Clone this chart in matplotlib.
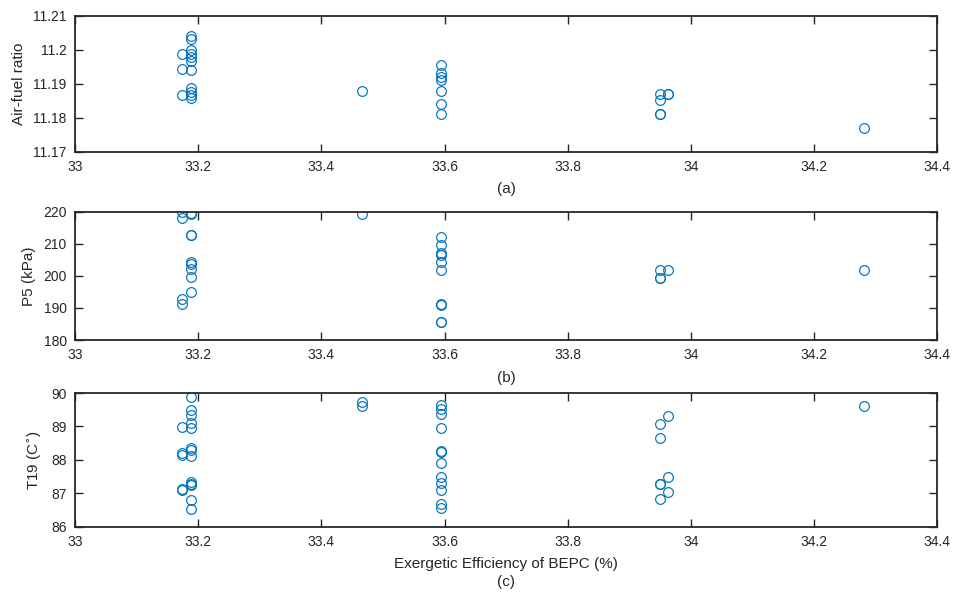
import numpy as np
import matplotlib
matplotlib.use("Agg")
import matplotlib.pyplot as plt

plt.rcParams['font.family'] = ['Liberation Sans', 'DejaVu Sans']

# (a) air-fuel ratio
eff_a = [33.173, 33.173, 33.173,
         33.188, 33.188, 33.188, 33.188, 33.188, 33.188, 33.188, 33.188, 33.188, 33.188, 33.188,
         33.466,
         33.594, 33.594, 33.594, 33.594, 33.594, 33.594, 33.594,
         33.950, 33.950, 33.950, 33.950,
         33.962, 33.962,
         34.281]
afr = [11.1986, 11.1944, 11.1866,
       11.2041, 11.2032, 11.1998, 11.1988, 11.1978, 11.1968, 11.1941, 11.1886, 11.1876, 11.1866, 11.1858,
       11.1878,
       11.1954, 11.1931, 11.1919, 11.1912, 11.1878, 11.1839, 11.1811,
       11.1869, 11.1853, 11.1811, 11.1811,
       11.1869, 11.1869,
       11.1771]

# (b) P5
eff_b = [33.173, 33.173, 33.173, 33.173,
         33.188, 33.188, 33.188, 33.188, 33.188, 33.188, 33.188, 33.188, 33.188,
         33.466,
         33.594, 33.594, 33.594, 33.594, 33.594, 33.594, 33.594, 33.594, 33.594, 33.594,
         33.950, 33.950, 33.950,
         33.962,
         34.281]
p5 = [219.8, 217.9, 192.7, 191.3,
      219.5, 219.4, 212.7, 212.6, 204.2, 203.6, 202.1, 199.7, 194.9,
      219.2,
      212.2, 209.6, 207.0, 206.6, 204.4, 201.8, 191.1, 190.9, 185.7, 185.5,
      201.8, 199.2, 199.3,
      201.8,
      201.8]

# (c) T19
eff_c = [33.173, 33.173, 33.173, 33.173, 33.173,
         33.188, 33.188, 33.188, 33.188, 33.188, 33.188, 33.188, 33.188, 33.188, 33.188, 33.188, 33.188, 33.188,
         33.466, 33.466,
         33.594, 33.594, 33.594, 33.594, 33.594, 33.594, 33.594, 33.594, 33.594, 33.594, 33.594, 33.594,
         33.950, 33.950, 33.950, 33.950, 33.950,
         33.962, 33.962, 33.962,
         34.281]
t19 = [88.99, 88.21, 88.14, 87.10, 87.12,
       89.89, 89.49, 89.34, 89.09, 88.96, 88.35, 88.29, 88.11, 87.33, 87.29, 87.25, 86.80, 86.53,
       89.74, 89.62,
       89.64, 89.52, 89.37, 88.96, 88.27, 88.23, 87.90, 87.50, 87.30, 87.10, 86.68, 86.55,
       89.07, 88.64, 87.29, 87.27, 86.82,
       89.32, 87.50, 87.03,
       89.61]

x_ticks = [33, 33.2, 33.4, 33.6, 33.8, 34, 34.2, 34.4]
x_ticklabels = ["33", "33.2", "33.4", "33.6", "33.8", "34", "34.2", "34.4"]

panels = [
    (eff_a, afr, [11.17, 11.18, 11.19, 11.2, 11.21], ["11.17", "11.18", "11.19", "11.2", "11.21"],
     "Air-fuel ratio", "(a)"),
    (eff_b, p5, [180, 190, 200, 210, 220], ["180", "190", "200", "210", "220"],
     "P5 (kPa)", "(b)"),
    (eff_c, t19, [86, 87, 88, 89, 90], ["86", "87", "88", "89", "90"],
     "T19 (C$^{\\circ}$)", "Exergetic Efficiency of BEPC (%)\n(c)"),
]

# axes boxes in figure fraction [left, bottom, width, height]
boxes = [[0.0785, 0.7446, 0.903, 0.229],
         [0.0785, 0.4276, 0.903, 0.216],
         [0.0785, 0.1133, 0.903, 0.225]]

fig = plt.figure(figsize=(9.55, 5.94), dpi=100)
dark = "#262626"
for (xs, ys, yt, ytl, ylab, xlab), box in zip(panels, boxes):
    ax = fig.add_axes(box)
    ax.plot(xs, ys, linestyle="none", marker="o", markersize=7, markerfacecolor="none",
            markeredgecolor="#0072BD", markeredgewidth=0.85)
    ax.set_xlim(33, 34.4)
    ax.set_ylim(yt[0], yt[-1])
    ax.set_xticks(x_ticks)
    ax.set_xticklabels(x_ticklabels)
    ax.set_yticks(yt)
    ax.set_yticklabels(ytl)
    ax.tick_params(direction="in", length=6, width=1.0, top=True, right=True,
                   labelsize=10, colors=dark, pad=6)
    for s in ax.spines.values():
        s.set_linewidth(1.3)
        s.set_color(dark)
    ax.set_ylabel(ylab, fontsize=11, color=dark, labelpad=5)
    ax.set_xlabel(xlab, fontsize=11, color=dark, labelpad=6, linespacing=1.3)

plt.savefig("out.png", dpi=100)
